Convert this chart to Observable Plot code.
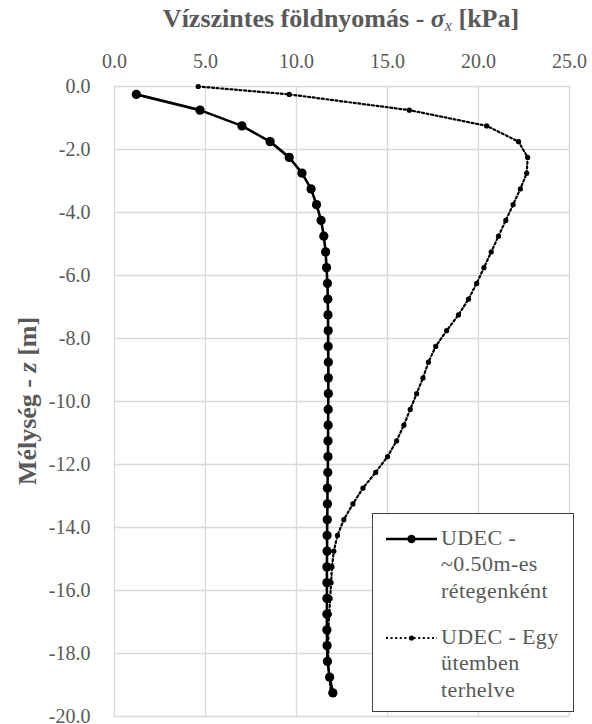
<!DOCTYPE html>
<html>
<head>
<meta charset="utf-8">
<script src="https://cdn.jsdelivr.net/npm/d3@7"></script>
<script src="https://cdn.jsdelivr.net/npm/@observablehq/plot@0.6"></script>
<style>
  html, body { margin: 0; padding: 0; background: #fff; }
  #wrap { position: relative; width: 592px; height: 724px; font-family: "Liberation Serif", "Times New Roman", Tinos, "DejaVu Serif", serif; color: #595959; }
  #title { position: absolute; top: 4px; left: 91px; width: 500px; text-align: center; font-weight: bold; font-size: 26px; line-height: 30px; white-space: nowrap; }
  #ytitle { position: absolute; left: 28px; top: 401px; transform: translate(-50%, -50%) rotate(-90deg); font-weight: bold; font-size: 26px; white-space: nowrap; line-height: 28px; }
  #legend { position: absolute; left: 372px; top: 513px; width: 200px; height: 197px; border: 1.3px solid #404040; background: #fff; }
  #legend .t { position: absolute; left: 68px; font-size: 22px; line-height: 26.3px; letter-spacing: 0.4px; white-space: nowrap; }
  sub { font-size: 0.62em; vertical-align: -0.25em; }
</style>
</head>
<body>
<div id="wrap">
  <div id="chart"></div>
  <div id="title">Vízszintes földnyomás - <span style="font-style:italic">σ</span><sub style="font-style:italic;font-weight:normal">x</sub> [kPa]</div>
  <div id="ytitle">Mélység - <span style="font-style:italic">z</span> [m]</div>
  <div id="legend">
    <svg id="legsvg" width="200" height="197" style="position:absolute;left:0;top:0"></svg>
    <div class="t" style="top:11px">UDEC -<br>~0.50m-es<br>rétegenként</div>
    <div class="t" style="top:110px">UDEC - Egy<br>ütemben<br>terhelve</div>
  </div>
</div>
<script>
// Series 1: UDEC - ~0.50m-es rétegenként
const depthLayered = [-0.25,-0.75,-1.25,-1.75,-2.25,-2.75,-3.25,-3.75,-4.25,-4.75,-5.25,-5.75,-6.25,-6.75,-7.25,-7.75,-8.25,-8.75,-9.25,-9.75,-10.25,-10.75,-11.25,-11.75,-12.25,-12.75,-13.25,-13.75,-14.25,-14.75,-15.25,-15.75,-16.25,-16.75,-17.25,-17.75,-18.25,-18.75,-19.25];
const sigmaLayered = [1.2,4.7,7.0,8.55,9.6,10.3,10.8,11.1,11.35,11.5,11.6,11.65,11.7,11.72,11.73,11.74,11.74,11.75,11.75,11.75,11.74,11.74,11.73,11.73,11.72,11.7,11.7,11.69,11.68,11.68,11.67,11.67,11.67,11.67,11.67,11.68,11.7,11.82,12.0];

// Series 2: UDEC - Egy ütemben terhelve
const depthSingle = [0,-0.25,-0.75,-1.25,-1.75,-2.25,-2.75,-3.25,-3.75,-4.25,-4.75,-5.25,-5.75,-6.25,-6.75,-7.25,-7.75,-8.25,-8.75,-9.25,-9.75,-10.25,-10.75,-11.25,-11.75,-12.25,-12.75,-13.25,-13.75,-14.25,-14.75,-15.25,-15.75,-16.25,-16.75,-17.25,-17.75,-18.25,-18.75,-19.25];
const sigmaSingle = [4.6,9.6,16.2,20.45,22.2,22.7,22.65,22.3,21.9,21.5,21.1,20.7,20.3,19.9,19.45,18.9,18.25,17.65,17.25,16.95,16.6,16.25,15.9,15.5,15.0,14.35,13.65,13.1,12.6,12.25,12.05,11.95,11.9,11.85,11.8,11.75,11.75,11.75,11.8,11.9];

// Axis ticks
const xTicks = [0,5,10,15,20,25];
const yTicks = [0,-2,-4,-6,-8,-10,-12,-14,-16,-18,-20];

const layered = depthLayered.map((z,i) => ({z, s: sigmaLayered[i]}));
const single = depthSingle.map((z,i) => ({z, s: sigmaSingle[i]}));
const fmt = d => (Math.abs(d) < 1e-9 ? 0 : d).toFixed(1);

const chart = Plot.plot({
  width: 592, height: 724,
  marginLeft: 114, marginRight: 23, marginTop: 86, marginBottom: 8,
  style: { fontFamily: "'Liberation Serif', 'Times New Roman', Tinos, 'DejaVu Serif', serif", fontSize: "20px", color: "#595959", background: "transparent" },
  x: { domain: [0,25] },
  y: { domain: [-20,0] },
  marks: [
    Plot.gridX(xTicks, { stroke: "#d9d9d9", strokeOpacity: 1, strokeWidth: 1.3 }),
    Plot.gridY(yTicks, { stroke: "#d9d9d9", strokeOpacity: 1, strokeWidth: 1.3 }),
    Plot.axisX(xTicks, { anchor: "top", tickSize: 0, tickPadding: 19, tickFormat: fmt, label: null, fill: "#595959", letterSpacing: 0.5 }),
    Plot.axisY(yTicks, { anchor: "left", tickSize: 0, tickPadding: 24, tickFormat: fmt, label: null, fill: "#595959", letterSpacing: 0.5 }),
    Plot.line(layered, { x: "s", y: "z", stroke: "black", strokeWidth: 2.6 }),
    Plot.dot(layered, { x: "s", y: "z", r: 4.6, fill: "black", stroke: "none" }),
    Plot.line(single, { x: "s", y: "z", stroke: "black", strokeWidth: 2.2, strokeDasharray: "2 2.6" }),
    Plot.dot(single, { x: "s", y: "z", r: 2.6, fill: "black", stroke: "none" })
  ]
});
document.getElementById("chart").appendChild(chart);

// Legend swatches
const leg = d3.select("#legsvg");
leg.append("line").attr("x1", 13).attr("x2", 64).attr("y1", 25).attr("y2", 25).attr("stroke", "black").attr("stroke-width", 2.6);
leg.append("circle").attr("cx", 38.5).attr("cy", 25).attr("r", 4.2).attr("fill", "black");
leg.append("line").attr("x1", 13).attr("x2", 64).attr("y1", 124).attr("y2", 124).attr("stroke", "black").attr("stroke-width", 2.2).attr("stroke-dasharray", "2 2.6");
leg.append("circle").attr("cx", 38.5).attr("cy", 124).attr("r", 2.6).attr("fill", "black");
</script>
</body>
</html>
